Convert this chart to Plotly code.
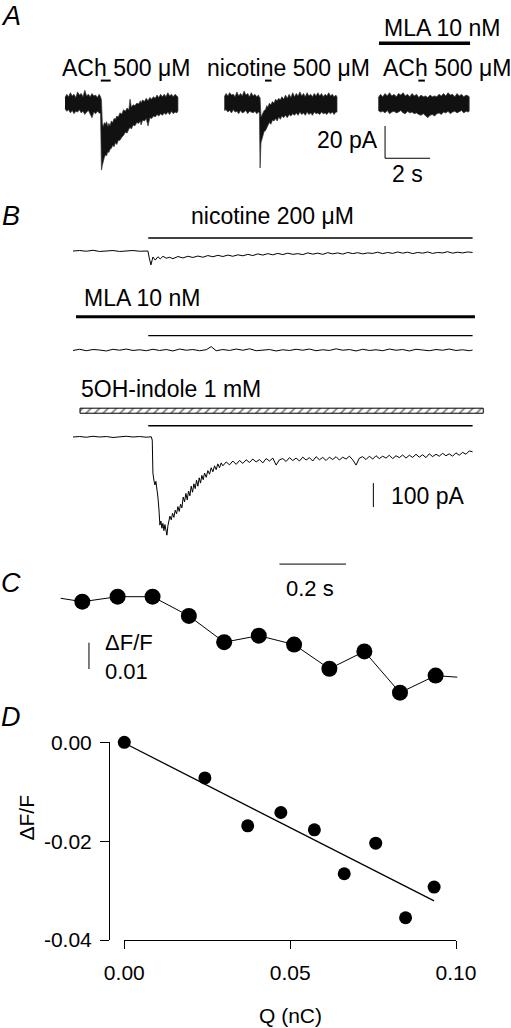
import plotly.graph_objects as go

W, H = 511, 1028
FONT = "Liberation Sans, Arial, sans-serif"

# ---- Panel A: whole-cell currents (t in s, noisy current shown as min/max band in pA) ----
a1_t = [0.00, 0.08, 0.16, 0.24, 0.32, 0.40, 0.48, 0.56, 0.64, 0.72, 0.80, 0.88, 0.96, 1.04, 1.12,
        1.20, 1.28, 1.36, 1.44, 1.52, 1.58, 1.62, 1.66, 1.70, 1.75, 1.80, 1.85, 1.90, 1.95, 2.00,
        2.06, 2.12, 2.18, 2.24, 2.30, 2.37, 2.44, 2.53, 2.60, 2.68, 2.76, 2.84, 2.89, 2.95, 3.03,
        3.11, 3.19, 3.27, 3.35, 3.38, 3.45, 3.53, 3.61, 3.69, 3.77, 3.85, 3.93, 4.01, 4.09, 4.17,
        4.25, 4.33, 4.41, 4.49, 4.57, 4.65, 4.73, 4.81, 4.89, 4.97, 5.02]
a1_hi = [4.0, 6.0, 4.5, 7.0, 5.0, 6.0, 4.0, 7.5, 5.5, 6.5, 4.5, 8.5, 5.0, 6.0, 4.5,
         6.5, 5.0, 5.5, 4.0, 6.0, 4.5, 2.5, -12.0, -14.0, -11.5, -12.5, -11.0, -14.0, -12.0, -13.5,
         -10.5, -11.5, -9.0, -9.5, -7.5, -8.0, -5.5, -6.2, -3.5, -4.5, -2.5, -3.5, 3.0, -2.0, -0.5,
         -1.0, 0.5, 0.0, 2.0, 0.6, 2.5, 1.5, 3.5, 2.0, 4.0, 3.0, 4.5, 3.5, 5.5, 4.0,
         6.0, 4.5, 6.0, 4.5, 7.0, 5.0, 6.0, 4.5, 6.0, 5.0, 4.3]
a1_lo = [-3.0, -4.5, -3.5, -5.5, -4.0, -6.0, -4.5, -5.0, -3.5, -5.5, -4.5, -6.5, -5.0, -4.0, -6.0,
         -8.5, -5.0, -6.0, -4.5, -5.5, -6.0, -40.9, -38.0, -35.0, -33.0, -31.5, -32.0, -29.5, -30.0, -28.0,
         -27.5, -25.5, -26.5, -24.0, -25.0, -22.5, -22.5, -20.5, -19.5, -17.5, -18.0, -15.5, -14.5, -15.5, -13.0,
         -13.5, -11.5, -12.0, -10.5, -13.0, -10.0, -10.5, -9.0, -13.6, -8.5, -9.0, -7.5, -8.0, -6.5, -7.5,
         -6.0, -7.0, -5.5, -6.5, -5.0, -6.5, -4.5, -6.0, -5.0, -5.5, -4.3]

a2_t = [0.00, 0.08, 0.16, 0.24, 0.32, 0.40, 0.48, 0.56, 0.64, 0.72, 0.80, 0.88, 0.96, 1.04, 1.12,
        1.20, 1.28, 1.36, 1.44, 1.52, 1.56, 1.59, 1.63, 1.67, 1.72, 1.77, 1.83, 1.89, 1.94, 2.00,
        2.07, 2.14, 2.21, 2.28, 2.35, 2.42, 2.49, 2.56, 2.64, 2.72, 2.80, 2.88, 2.96, 3.04, 3.12,
        3.20, 3.28, 3.36, 3.44, 3.52, 3.60, 3.68, 3.76, 3.84, 3.92, 4.00, 4.08, 4.16, 4.24, 4.32,
        4.40, 4.48, 4.56, 4.64, 4.72, 4.80, 4.88, 4.96, 5.01]
a2_hi = [4.5, 6.5, 5.0, 7.0, 5.5, 6.0, 4.5, 7.5, 5.0, 6.5, 5.0, 8.0, 5.5, 6.5, 4.5,
         7.0, 5.0, 6.0, 4.5, 5.5, 4.0, 4.0, -8.0, -7.0, -6.0, -4.0, -3.5, -1.0, -2.0, 0.5,
         -0.5, 1.5, 0.5, 3.0, 2.0, 3.5, 2.5, 4.5, 3.0, 5.5, 3.5, 6.0, 4.0, 7.0, 4.5,
         6.5, 5.0, 7.5, 5.0, 6.5, 4.5, 7.0, 5.0, 6.0, 4.5, 6.5, 5.0, 7.0, 5.0, 6.5,
         4.5, 6.0, 5.0, 7.0, 5.0, 6.0, 4.5, 5.5, 4.3]
a2_lo = [-4.0, -3.5, -5.0, -4.0, -5.5, -3.5, -5.0, -4.5, -6.0, -4.0, -5.5, -5.0, -4.0, -6.0, -4.5,
         -5.0, -5.5, -4.5, -6.0, -5.0, -5.5, -39.6, -24.0, -21.0, -19.5, -17.0, -16.5, -14.0, -13.5, -11.5,
         -12.5, -10.0, -10.5, -9.0, -10.5, -8.0, -9.5, -7.5, -8.5, -7.0, -8.5, -6.5, -7.5, -6.0, -7.0,
         -5.5, -7.0, -5.0, -6.5, -5.5, -7.0, -5.0, -6.5, -5.5, -7.0, -5.0, -6.0, -5.5, -6.5, -5.0,
         -6.0, -5.5, -6.5, -5.0, -6.0, -5.0, -6.5, -5.0, -5.0]

a3_t = [0.0, 0.1, 0.2, 0.3, 0.4, 0.5, 0.6, 0.7, 0.8, 0.9, 1.0, 1.1, 1.2, 1.3, 1.4,
        1.5, 1.6, 1.7, 1.8, 1.9, 2.0, 2.1, 2.2, 2.3, 2.4, 2.5, 2.6, 2.7, 2.8, 2.9,
        3.0, 3.1, 3.2, 3.3, 3.4, 3.5, 3.6, 3.7, 3.8, 3.9, 4.0, 4.04]
a3_hi = [4.0, 6.0, 4.5, 6.5, 5.0, 7.0, 5.0, 6.0, 4.5, 6.5, 5.5, 7.0, 5.0, 6.0, 4.5,
         6.5, 5.0, 6.0, 4.0, 5.5, 4.5, 5.0, 4.0, 5.5, 4.5, 5.0, 4.5, 6.0, 5.0, 6.5,
         5.0, 7.0, 5.5, 6.0, 4.5, 6.5, 5.0, 6.0, 4.5, 5.5, 5.0, 4.5]
a3_lo = [-4.0, -5.0, -4.5, -5.5, -4.0, -6.0, -5.0, -4.5, -5.5, -5.0, -4.0, -5.5, -6.0, -4.5, -5.5,
         -5.0, -6.0, -5.5, -6.5, -7.0, -6.0, -7.5, -8.5, -7.0, -6.5, -7.5, -6.0, -5.5, -6.5, -5.0,
         -5.5, -4.5, -6.0, -5.0, -4.5, -5.5, -5.0, -4.0, -5.5, -4.5, -5.0, -4.3]

a_puff = [[1.59, 2.03], [1.81, 2.10], [1.78, 2.07]]   # agonist application (s)
a_mla = [0.03, 4.08]                                  # MLA application (s)

# ---- Panel B: currents (t in s, pA) ----
b1_t = [0.00, 0.02, 0.04, 0.06, 0.08, 0.10, 0.12, 0.14, 0.16, 0.18, 0.20, 0.22, 0.225, 0.229, 0.234,
        0.240, 0.247, 0.255, 0.262, 0.270, 0.280, 0.290, 0.300, 0.315, 0.330, 0.345, 0.360, 0.375, 0.390, 0.405,
        0.420, 0.435, 0.450, 0.465, 0.480, 0.495, 0.510, 0.525, 0.540, 0.555, 0.570, 0.585, 0.600, 0.615, 0.630,
        0.645, 0.660, 0.675, 0.690, 0.705, 0.720, 0.735, 0.750, 0.765, 0.780, 0.795, 0.810, 0.825, 0.840, 0.855,
        0.870, 0.885, 0.900, 0.915, 0.930, 0.945, 0.960, 0.975, 0.990, 1.005, 1.020, 1.035, 1.050, 1.065, 1.080,
        1.095, 1.110, 1.125, 1.140, 1.155, 1.170, 1.185, 1.200]
b1_i = [0, 2, -1, 3, -2, 1, 2, -2, 0, 2, -1, 1, 0, -29, -58,
        -25, -38, -24, -33, -22, -30, -26, -32, -23, -29, -22, -27, -21, -26, -19,
        -24, -18, -23, -17, -22, -16, -20, -14, -19, -12, -17, -11, -16, -10, -15,
        -9, -14, -11, -15, -8, -13, -9, -14, -7, -12, -8, -13, -6, -11, -7,
        -12, -8, -10, -5, -11, -6, -10, -4, -9, -5, -11, -6, -9, -4, -10,
        -6, -8, -3, -9, -5, -8, -4, -6]

b2_t = [0.00, 0.02, 0.04, 0.06, 0.08, 0.10, 0.12, 0.14, 0.16, 0.18, 0.20, 0.22, 0.24, 0.26, 0.28,
        0.30, 0.32, 0.34, 0.36, 0.38, 0.40, 0.415, 0.43, 0.45, 0.47, 0.49, 0.51, 0.53, 0.55, 0.57,
        0.59, 0.61, 0.63, 0.65, 0.67, 0.69, 0.71, 0.73, 0.75, 0.77, 0.79, 0.81, 0.83, 0.85, 0.87,
        0.89, 0.91, 0.93, 0.95, 0.97, 0.99, 1.01, 1.03, 1.05, 1.07, 1.09, 1.11, 1.13, 1.15, 1.17,
        1.19, 1.20]
b2_i = [-2, 3, -3, 2, 0, -4, 3, -1, 4, -2, 1, -3, 3, -2, 2,
        -4, 4, -1, 2, -3, 1, 14, -3, 2, -2, 4, -1, 5, -3, 0,
        2, -4, 1, -2, 3, -1, 4, -3, 1, -2, 5, -1, 2, -4, 3,
        -2, 1, -3, 4, -1, 2, -4, 3, 0, -3, 2, -1, 4, -2, 1,
        -3, 0]

b3_t = [0.000, 0.020, 0.040, 0.060, 0.080, 0.100, 0.120, 0.140, 0.160, 0.180, 0.200, 0.220, 0.235, 0.238, 0.240,
        0.243, 0.246, 0.249, 0.252, 0.255, 0.258, 0.261, 0.264, 0.267, 0.270, 0.273, 0.276, 0.279, 0.282, 0.285,
        0.288, 0.291, 0.295, 0.299, 0.303, 0.307, 0.311, 0.315, 0.319, 0.323, 0.327, 0.331, 0.335, 0.339, 0.343,
        0.347, 0.351, 0.355, 0.359, 0.363, 0.367, 0.371, 0.375, 0.379, 0.383, 0.387, 0.391, 0.395, 0.400, 0.405,
        0.410, 0.415, 0.420, 0.425, 0.430, 0.435, 0.440, 0.445, 0.450, 0.460, 0.470, 0.480, 0.490, 0.500, 0.510,
        0.520, 0.530, 0.540, 0.550, 0.560, 0.570, 0.580, 0.590, 0.600, 0.610, 0.620, 0.630, 0.640, 0.650, 0.660,
        0.670, 0.680, 0.690, 0.700, 0.710, 0.720, 0.730, 0.740, 0.750, 0.760, 0.770, 0.780, 0.790, 0.800, 0.810,
        0.820, 0.830, 0.840, 0.850, 0.860, 0.870, 0.880, 0.890, 0.900, 0.910, 0.920, 0.930, 0.940, 0.950, 0.960,
        0.970, 0.980, 0.990, 1.000, 1.010, 1.020, 1.030, 1.040, 1.050, 1.060, 1.070, 1.080, 1.090, 1.100, 1.110,
        1.120, 1.130, 1.140, 1.150, 1.160, 1.170, 1.180, 1.190, 1.200]
b3_i = [0, 2, -1, 3, 0, 2, -2, 1, 3, 0, 2, -1, 1, -13, -150,
        -180, -200, -185, -210, -250, -300, -367, -350, -380, -360, -390, -365, -400, -409, -370,
        -354, -330, -345, -318, -335, -305, -320, -290, -310, -280, -295, -250, -270, -235, -262,
        -225, -245, -205, -230, -195, -215, -180, -205, -170, -192, -160, -178, -150, -168, -140,
        -155, -128, -145, -120, -136, -112, -128, -108, -120, -104, -116, -100, -114, -98, -110,
        -95, -106, -92, -104, -94, -108, -90, -100, -88, -117, -95, -90, -102, -86, -98,
        -88, -100, -84, -96, -86, -100, -82, -95, -85, -98, -84, -94, -82, -96, -84,
        -92, -80, -95, -117, -88, -82, -94, -80, -92, -78, -90, -80, -88, -76, -90,
        -78, -86, -75, -88, -76, -85, -72, -84, -74, -86, -70, -82, -72, -80, -68,
        -78, -70, -80, -66, -76, -64, -72, -58, -62]

b_nic = [0.226, 1.20]      # nicotine application (s)
b_mla = [0.009, 1.207]     # MLA application (s)
b_indole = [0.021, 1.232]  # 5OH-indole application (s)

# ---- Panel C: fluorescence (t in s, dF/F) ----
c_t = [0.000, 0.106, 0.211, 0.320, 0.426, 0.530, 0.636, 0.742, 0.847, 0.954, 1.061]
c_f = [0.0, 0.0019, 0.0019, -0.0054, -0.0154, -0.0129, -0.0163, -0.0255, -0.0189, -0.0346, -0.0281]
c_line_t = [-0.065] + c_t + [1.126]
c_line_f = [0.0013] + c_f + [-0.0287]

# ---- Panel D: dF/F vs charge ----
d_q = [0.0, 0.0243, 0.0372, 0.0472, 0.0573, 0.0663, 0.0758, 0.0848, 0.0934]
d_f = [0.0, -0.0072, -0.0169, -0.0142, -0.0177, -0.0266, -0.0204, -0.0355, -0.0293]
d_fit_q = [0.001, 0.0934]
d_fit_f = [-0.0005, -0.0321]


def fx(px):
    return px / W


def fy(py):
    return 1 - py / H


def xaxis_px(lo, hi, p0, scale, anchor):
    return dict(domain=[fx(lo), fx(hi)], range=[(lo - p0) / scale, (hi - p0) / scale],
                visible=False, anchor=anchor, fixedrange=True)


def yaxis_px(top, bottom, p0, scale, anchor):
    return dict(domain=[fy(bottom), fy(top)], range=[(p0 - bottom) / scale, (p0 - top) / scale],
                visible=False, anchor=anchor, fixedrange=True)


fig = go.Figure()


def band(t, hi, lo, ax):
    fig.add_trace(go.Scatter(x=t + t[::-1], y=hi + lo[::-1], fill="toself", fillcolor="#111",
                             mode="lines", line=dict(color="#333", width=0.7),
                             xaxis="x" + ax, yaxis="y" + ax, hoverinfo="skip"))


def seg(x, y, ax, width=1.0, color="black"):
    fig.add_trace(go.Scatter(x=x, y=y, mode="lines", line=dict(color=color, width=width),
                             xaxis="x" + ax, yaxis="y" + ax, hoverinfo="skip", cliponaxis=False))


# A traces
band(a1_t, a1_hi, a1_lo, "")
band(a2_t, a2_hi, a2_lo, "2")
band(a3_t, a3_hi, a3_lo, "3")
for p, ax in zip(a_puff, ["", "2", "3"]):
    seg(p, [14.5, 14.5], ax, 2)
seg(a_mla, [37.6, 37.6], "3", 3.5)
# scale bars 20 pA / 2 s
seg([0.3, 0.3, 2.3], [-13.6, -33.6, -33.6], "3", 1)

# B traces
seg(b1_t, b1_i, "4", 1)
seg(b_nic, [54, 54], "4", 1.4)
seg(b2_t, b2_i, "5", 1)
seg(b_mla, [139, 139], "5", 3)
seg(b_nic, [60, 60], "5", 1.4)
seg(b3_t, b3_i, "6", 1)
seg(b_nic, [47, 47], "6", 1.4)
fig.add_trace(go.Scatter(x=[b_indole[0], b_indole[1], b_indole[1], b_indole[0], b_indole[0]],
                         y=[99, 99, 120, 120, 99], fill="toself", mode="lines",
                         fillcolor="white", line=dict(color="black", width=1),
                         fillpattern=dict(shape="/", fgcolor="black", bgcolor="white", size=6, solidity=0.3),
                         xaxis="x6", yaxis="y6", hoverinfo="skip"))
seg([0.902, 0.902], [-192, -292], "6", 1)

# C
seg(c_line_t, c_line_f, "7", 1)
fig.add_trace(go.Scatter(x=c_t, y=c_f, mode="markers", marker=dict(color="black", size=16),
                         xaxis="x7", yaxis="y7", hoverinfo="skip", cliponaxis=False))
seg([0.592, 0.792], [0.0143, 0.0143], "7", 1)
seg([0.020, 0.020], [-0.0156, -0.0256], "7", 1)

# D
fig.add_trace(go.Scatter(x=d_fit_q, y=d_fit_f, mode="lines", line=dict(color="black", width=1.3),
                         xaxis="x8", yaxis="y8", hoverinfo="skip"))
fig.add_trace(go.Scatter(x=d_q, y=d_f, mode="markers", marker=dict(color="black", size=13),
                         xaxis="x8", yaxis="y8", hoverinfo="skip", cliponaxis=False))


def label(text, x, y, size=23, xanchor="center", yanchor="middle"):
    return dict(text=text, x=fx(x), y=fy(y), xref="paper", yref="paper", showarrow=False,
                xanchor=xanchor, yanchor=yanchor, font=dict(size=size, color="black", family=FONT))


annotations = [
    label("<i>A</i>", 11, 0, 27, yanchor="top"),
    label("ACh 500 μM", 126, 68),
    label("nicotine 500 μM", 288, 68),
    label("ACh 500 μM", 447, 68),
    label("MLA 10 nM", 442, 28),
    label("20 pA", 380, 140, xanchor="right"),
    label("2 s", 407, 174),
    label("<i>B</i>", 11, 216, 27),
    label("nicotine 200 μM", 272, 216),
    label("MLA 10 nM", 82, 298, xanchor="left"),
    label("5OH-indole 1 mM", 79, 389, xanchor="left"),
    label("100 pA", 389, 496, xanchor="left"),
    label("<i>C</i>", 11, 583, 27),
    label("0.2 s", 310, 588, 22),
    label("ΔF/F<br>0.01", 103, 657, 22, xanchor="left"),
    label("<i>D</i>", 11, 717, 27),
    label("Q (nC)", 290, 1015, 21),
    dict(text="ΔF/F", x=fx(12), y=fy(843), xref="paper", yref="paper", showarrow=False,
         textangle=-90, font=dict(size=21, color="black", family=FONT)),
]
annotations[0]["borderpad"] = 0
annotations[14]["align"] = "left"

A_PX = 1.615   # px per pA in A
B_PX = 0.24    # px per pA in B
T_A = 22.5     # px per s in A
T_B = 333.0    # px per s in B and C

axes = dict(
    xaxis=xaxis_px(55, 190, 65, T_A, "y"),
    yaxis=yaxis_px(30, 185, 104, A_PX, "x"),
    xaxis2=xaxis_px(214, 345, 224.3, T_A, "y2"),
    yaxis2=yaxis_px(30, 185, 104, A_PX, "x2"),
    xaxis3=xaxis_px(368, 480, 378.3, T_A, "y3"),
    yaxis3=yaxis_px(30, 185, 104, A_PX, "x3"),
    xaxis4=xaxis_px(60, 500, 73, T_B, "y4"),
    yaxis4=yaxis_px(200, 280, 251, B_PX, "x4"),
    xaxis5=xaxis_px(60, 500, 73, T_B, "y5"),
    yaxis5=yaxis_px(290, 365, 350, B_PX, "x5"),
    xaxis6=xaxis_px(60, 500, 73, T_B, "y6"),
    yaxis6=yaxis_px(380, 545, 437, B_PX, "x6"),
    xaxis7=xaxis_px(40, 490, 82.3, T_B, "y7"),
    yaxis7=yaxis_px(550, 720, 601.7, 2630.0, "x7"),
    xaxis8=dict(domain=[fx(124.3), fx(456)], range=[0, 0.1], anchor="y8", showline=True,
                linecolor="black", linewidth=1, ticks="outside", ticklen=8, tickcolor="black",
                tickvals=[0, 0.05, 0.1], ticktext=["0.00", "0.05", "0.10"], showgrid=False,
                zeroline=False, ticklabelstandoff=6, fixedrange=True, automargin=False,
                tickfont=dict(size=21, color="black", family=FONT)),
    yaxis8=dict(domain=[fy(940), fy(742.3)], range=[-0.04, 0], anchor="free", position=fx(109),
                showline=True, linecolor="black", linewidth=1, ticks="outside", ticklen=9,
                tickcolor="black", tickvals=[0, -0.02, -0.04], ticktext=["0.00", "-0.02", "-0.04"],
                showgrid=False, zeroline=False, ticklabelstandoff=4, fixedrange=True, automargin=False,
                tickfont=dict(size=21, color="black", family=FONT)),
)

fig.update_layout(width=W, height=H, margin=dict(l=0, r=0, t=0, b=0, autoexpand=False),
                  showlegend=False, paper_bgcolor="white", plot_bgcolor="white",
                  font=dict(family=FONT, color="black"), annotations=annotations, **axes)

fig.write_html("out.html", config={"displayModeBar": False},
               post_script="document.body.style.margin='0';")
